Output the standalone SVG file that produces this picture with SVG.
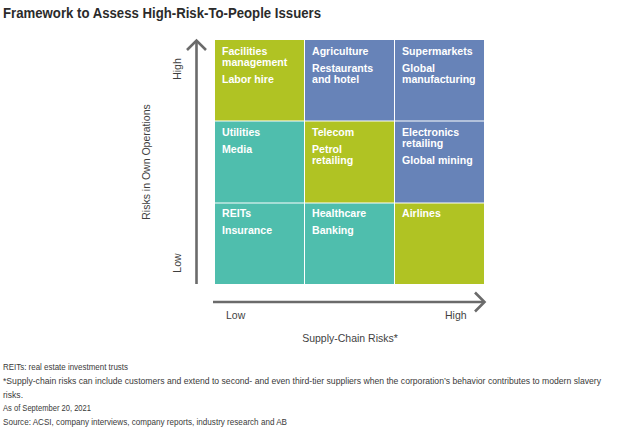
<svg xmlns="http://www.w3.org/2000/svg" width="626" height="429" viewBox="0 0 626 429">
<style>
.title{font-family:"Liberation Sans",Arial,sans-serif;font-weight:bold;font-size:14.5px;fill:#2b2b2b}
.cell{font-family:"Liberation Sans",Arial,sans-serif;font-weight:bold;font-size:10.6px;fill:#ffffff}
.ax{font-family:"Liberation Sans",Arial,sans-serif;font-size:10.5px;fill:#3f3f3f}
.note{font-family:"Liberation Sans",Arial,sans-serif;font-size:8.6px;fill:#3a3a3a}
.g{fill:#b0c323}
.b{fill:#6783b8}
.t{fill:#4fbead}
.axis{stroke:#6b6b6b;stroke-width:2.6;fill:none}
</style>
<rect width="626" height="429" fill="#ffffff"/>
<text class="title" x="3" y="18" textLength="318" lengthAdjust="spacingAndGlyphs">Framework to Assess High-Risk-To-People Issuers</text>

<g id="cell-facilities">
<rect class="g" x="215" y="40" width="89" height="80.5"/>
<text class="cell" x="222" y="55">Facilities</text>
<text class="cell" x="222" y="66">management</text>
<text class="cell" x="222" y="83">Labor hire</text>
</g>
<g id="cell-agriculture">
<rect class="b" x="305" y="40" width="89" height="80.5"/>
<text class="cell" x="312" y="55">Agriculture</text>
<text class="cell" x="312" y="72">Restaurants</text>
<text class="cell" x="312" y="83">and hotel</text>
</g>
<g id="cell-supermarkets">
<rect class="b" x="395" y="40" width="89" height="80.5"/>
<text class="cell" x="402" y="55">Supermarkets</text>
<text class="cell" x="402" y="72">Global</text>
<text class="cell" x="402" y="83">manufacturing</text>
</g>
<g id="cell-utilities">
<rect class="t" x="215" y="121.5" width="89" height="81"/>
<text class="cell" x="222" y="136">Utilities</text>
<text class="cell" x="222" y="153">Media</text>
</g>
<g id="cell-telecom">
<rect class="g" x="305" y="121.5" width="89" height="81"/>
<text class="cell" x="312" y="136">Telecom</text>
<text class="cell" x="312" y="153">Petrol</text>
<text class="cell" x="312" y="164">retailing</text>
</g>
<g id="cell-electronics">
<rect class="b" x="395" y="121.5" width="89" height="81"/>
<text class="cell" x="402" y="136">Electronics</text>
<text class="cell" x="402" y="147">retailing</text>
<text class="cell" x="402" y="164">Global mining</text>
</g>
<g id="cell-reits">
<rect class="t" x="215" y="203.5" width="89" height="80.5"/>
<text class="cell" x="222" y="217">REITs</text>
<text class="cell" x="222" y="234">Insurance</text>
</g>
<g id="cell-healthcare">
<rect class="t" x="305" y="203.5" width="89" height="80.5"/>
<text class="cell" x="312" y="217">Healthcare</text>
<text class="cell" x="312" y="234">Banking</text>
</g>
<g id="cell-airlines">
<rect class="g" x="395" y="203.5" width="89" height="80.5"/>
<text class="cell" x="402" y="217">Airlines</text>
</g>

<g id="connectors">
<line class="axis" x1="196.5" y1="284" x2="196.5" y2="42"/>
<polyline class="axis" points="187,50 196.5,40.5 206,50"/>
<line class="axis" x1="213" y1="302" x2="483" y2="302"/>
<polyline class="axis" points="475,292.5 484.5,302 475,311.5"/>
</g>

<g id="axis-labels">
<text class="ax" transform="translate(181,69) rotate(-90)" text-anchor="middle">High</text>
<text class="ax" transform="translate(181,263) rotate(-90)" text-anchor="middle">Low</text>
<text class="ax" transform="translate(150,162) rotate(-90)" text-anchor="middle">Risks in Own Operations</text>
<text class="ax" x="226" y="319">Low</text>
<text class="ax" x="445" y="319">High</text>
<text class="ax" x="350" y="342" text-anchor="middle">Supply-Chain Risks*</text>
</g>

<g id="notes">
<text class="note" x="3" y="370" textLength="125" lengthAdjust="spacingAndGlyphs">REITs: real estate investment trusts</text>
<text class="note" x="3" y="384" textLength="598" lengthAdjust="spacingAndGlyphs">*Supply-chain risks can include customers and extend to second- and even third-tier suppliers when the corporation’s behavior contributes to modern slavery</text>
<text class="note" x="3" y="397.5">risks.</text>
<text class="note" x="3" y="411" textLength="88" lengthAdjust="spacingAndGlyphs">As of September 20, 2021</text>
<text class="note" x="3" y="424.5" textLength="284" lengthAdjust="spacingAndGlyphs">Source: ACSI, company interviews, company reports, industry research and AB</text>
</g>
</svg>
